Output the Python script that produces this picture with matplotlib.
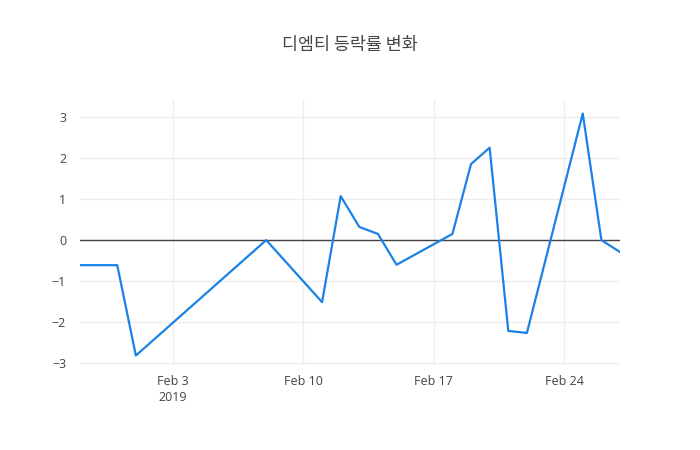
import pandas as pd
import matplotlib
matplotlib.use('Agg')
import matplotlib.pyplot as plt

# 등락률 데이터
dates = ['2019-01-29', '2019-01-31', '2019-02-01', '2019-02-08', '2019-02-11',
         '2019-02-12', '2019-02-13', '2019-02-14', '2019-02-15', '2019-02-18',
         '2019-02-19', '2019-02-20', '2019-02-21', '2019-02-22', '2019-02-25',
         '2019-02-26', '2019-02-27']
change_rate = [-0.61, -0.61, -2.81, 0.0, -1.51,
               1.07, 0.32, 0.15, -0.60, 0.15,
               1.85, 2.25, -2.21, -2.26, 3.08,
               0.0, -0.29]
tick_dates = ['2019-02-03', '2019-02-10', '2019-02-17', '2019-02-24']
tick_labels = ['Feb 3\n2019', 'Feb 10', 'Feb 17', 'Feb 24']
y_ticks = [-3, -2, -1, 0, 1, 2, 3]

plt.rcParams['font.family'] = ['Open Sans', 'Noto Sans CJK KR', 'DejaVu Sans']
plt.rcParams['axes.unicode_minus'] = True

x = pd.to_datetime(dates)

fig = plt.figure(figsize=(7, 4.5), dpi=100)
ax = fig.add_axes([80 / 700, 1 - 365 / 450, 540 / 700, 265 / 450])

ax.plot(x, change_rate, color='#1a82e6', linewidth=1.6, zorder=3)
ax.axhline(0, color='#444444', linewidth=1, zorder=2)

ax.set_xlim(x[0], x[-1])
ax.set_ylim(-3.04, 3.41)

ax.set_xticks(pd.to_datetime(tick_dates))
ax.set_xticklabels(tick_labels, linespacing=1.3)
ax.set_yticks(y_ticks)
ax.set_yticklabels([str(v).replace('-', '\u2212') for v in y_ticks])

ax.grid(True, color='#eeeeee', linewidth=1, zorder=0)
for s in ax.spines.values():
    s.set_visible(False)
ax.tick_params(length=0, labelsize=9, labelcolor='#444444')
ax.tick_params(axis='x', pad=7)
ax.tick_params(axis='y', pad=10)

# 제목
fig.text(0.5, 1 - 45 / 450, '디엠티 등락률 변화', ha='center', va='center',
         fontsize=12.5, color='#444444', family=['Noto Sans CJK KR', 'DejaVu Sans'])

fig.savefig('out.png', dpi=100)
